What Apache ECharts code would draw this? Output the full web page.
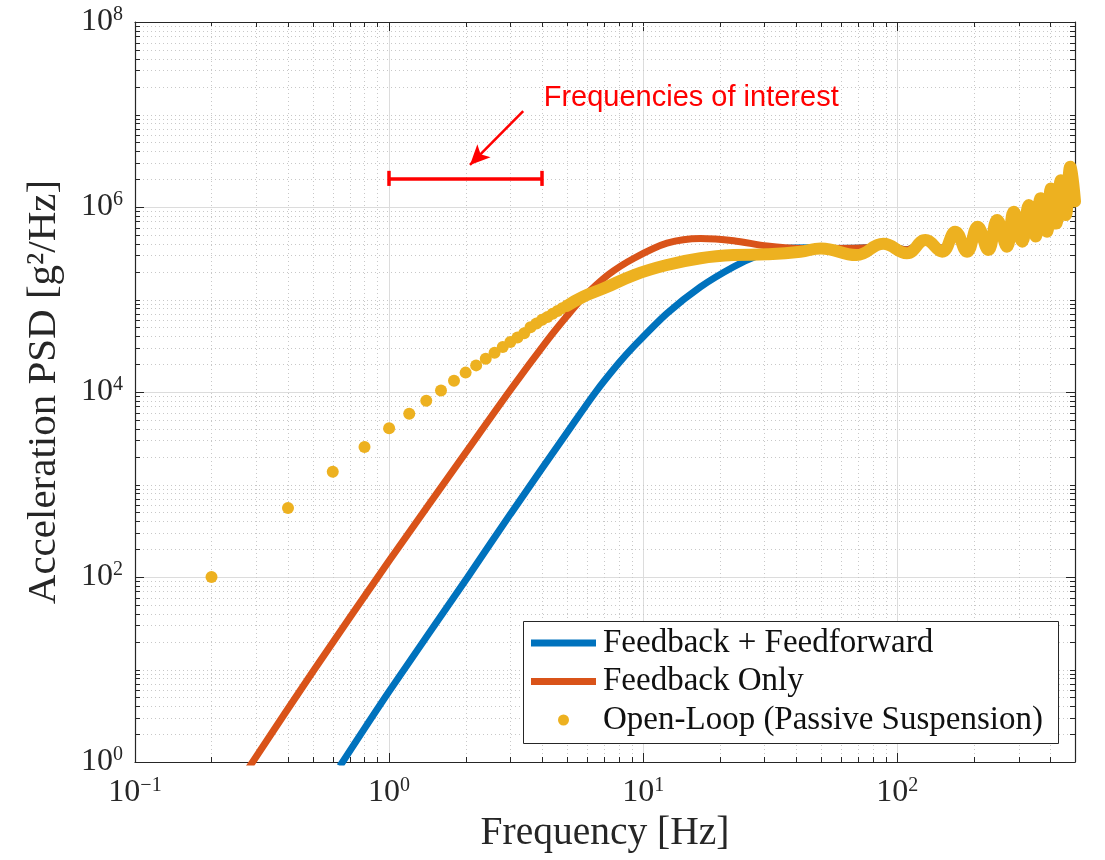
<!DOCTYPE html>
<html>
<head>
<meta charset="utf-8">
<script src="https://cdn.jsdelivr.net/npm/echarts@6/dist/echarts.min.js"></script>
<style>
  html, body { margin: 0; padding: 0; background: #fff; }
  #chart { width: 1105px; height: 860px; }
</style>
</head>
<body>
<div id="chart"></div>
<script>
  // frequency in Hz, acceleration PSD in g^2/Hz
  var olDotFreq = [0.2, 0.4, 0.6, 0.8, 1.0, 1.2, 1.4, 1.6, 1.8, 2.0, 2.2, 2.4, 2.6, 2.8, 3.0,
                   3.2, 3.4, 3.6, 3.8, 4.0, 4.2, 4.4, 4.6, 4.8, 5.0];
  var olDotPsd = [100, 557, 1370, 2540, 4060, 5820, 8050, 10400, 13200, 16200, 19400, 22900, 26600, 30600, 34700,
                  38900, 43200, 50100, 55000, 60300, 64600, 70000, 75000, 80400, 85100];

  // open loop above ~5 Hz, where the points merge into a band
  var olFreq = [5, 5.8, 7, 9.2, 12.4, 16.8, 22.7, 30.7, 41.5, 50, 69, 88, 109, 129, 150, 169, 188, 207, 228,
                247, 270, 287, 310, 329, 350, 366, 388, 402, 422, 440, 460, 479, 500];
  var olPsd = [85100, 107000, 132000, 184000, 236000, 279000, 302000, 308000, 328000, 357000, 302000, 400000,
               316000, 440000, 329000, 541000, 329000, 612000, 343000, 724000, 372000, 891000, 422000, 1050000,
               479000, 1240000, 541000, 1580000, 665000, 1950000, 818000, 2730000, 1150000];

  // feedback only; above ~200 Hz it lies under the open-loop band
  var fbFreq = [0.28, 0.5, 1.0, 2.0, 3.0, 4.2, 5.0, 5.8, 7.3, 9.2, 12.4, 16.8, 22.7, 30.7, 41.5, 56, 76, 88, 109,
                129, 150, 169, 188, 207, 228, 247, 270, 287, 310, 329, 350, 366, 388, 402, 422, 440, 460, 479, 500];
  var fbPsd = [0.86, 9.4, 150, 2200, 10500, 36300, 65800, 105000, 186000, 279000, 406000, 457000, 432000, 378000,
               357000, 357000, 362000, 390000, 345000, 425000, 358000, 515000, 356000, 600000, 343000, 724000,
               372000, 891000, 422000, 1050000, 479000, 1240000, 541000, 1580000, 665000, 1950000, 818000,
               2730000, 1150000];

  // feedback + feedforward; joins the feedback-only curve above ~40 Hz
  var ffFreq = [0.64, 1.0, 2.04, 3.0, 5.16, 6.5, 8.0, 9.16, 12.4, 16.8, 22.7, 28, 35.6, 45, 56, 76, 88, 109,
                129, 150, 169, 188, 207, 228, 247, 270, 287, 310, 329, 350, 366, 388, 402, 422, 440, 460, 479, 500];
  var ffPsd = [0.9, 5.8, 100, 478, 4070, 10000, 20400, 30900, 70800, 137000, 226000, 295000, 355000, 363000,
               357000, 362000, 390000, 345000, 425000, 358000, 515000, 356000, 600000, 343000, 724000,
               372000, 891000, 422000, 1050000, 479000, 1240000, 541000, 1580000, 665000, 1950000, 818000,
               2730000, 1150000];

  var seriesNames = ['Feedback + Feedforward', 'Feedback Only', 'Open-Loop (Passive Suspension)'];
  var colors = ['#0072BD', '#D95319', '#EDB120'];

  // axis ranges and minor ticks
  var xMin = 0.1, xMax = 500, yMin = 1, yMax = 1e8;
  var xMinor = [0.2, 0.3, 0.4, 0.5, 0.6, 0.7, 0.8, 0.9, 2, 3, 4, 5, 6, 7, 8, 9,
                20, 30, 40, 50, 60, 70, 80, 90, 200, 300, 400];
  var yMinor = [];
  for (var e = 0; e < 8; e++) {
    if (e % 2 == 1) yMinor.push(Math.pow(10, e));
    for (var m = 2; m < 10; m++) yMinor.push(m * Math.pow(10, e));
  }

  // annotation
  var bandLo = 1, bandHi = 4, bandY = 2.04e6, capLo = 1.69e6, capHi = 2.46e6;
  var arrowFrom = [3.37, 1.09e7], arrowTo = [2.08, 2.85e6];
  var noteAt = [4.04, 1.51e7];

  var serif = 'Liberation Serif';
  var ink = '#262626';

  function pairs(xs, ys) {
    return xs.map(function (x, i) { return [x, ys[i]]; });
  }

  function expLabel(v) {
    var e = Math.log10(v);
    if (Math.abs(e - Math.round(e)) > 1e-6) return '';
    e = Math.round(e);
    return '{b|10}{s|' + (e < 0 ? '\u2212' + (-e) : e) + '}';
  }
  var labelRich = {
    b: { fontFamily: serif, fontSize: 32, color: ink },
    s: { fontFamily: serif, fontSize: 20, color: ink, padding: [0, 0, 14, 0] }
  };

  function renderMinor(params, api) {
    var lo = api.coord([xMin, yMin]);
    var hi = api.coord([xMax, yMax]);
    var grid = { stroke: '#c8c8c8', lineWidth: 1, lineDash: [1, 3] };
    var tick = { stroke: ink, lineWidth: 1 };
    var els = [];
    function seg(x1, y1, x2, y2, st) {
      els.push({ type: 'line', shape: { x1: x1, y1: y1, x2: x2, y2: y2 }, style: st, silent: true });
    }
    xMinor.forEach(function (v) {
      var x = Math.round(api.coord([v, yMin])[0]) + 0.5;
      seg(x, lo[1], x, hi[1], grid);
      seg(x, lo[1], x, lo[1] - 5, tick);
      seg(x, hi[1], x, hi[1] + 5, tick);
    });
    yMinor.forEach(function (v) {
      var y = Math.round(api.coord([xMin, v])[1]) + 0.5;
      seg(lo[0], y, hi[0], y, grid);
      seg(lo[0], y, lo[0] + 5, y, tick);
      seg(hi[0], y, hi[0] - 5, y, tick);
    });
    return { type: 'group', children: els };
  }

  var chart = echarts.init(document.getElementById('chart'));
  var logX = { type: 'log', logBase: 10, min: xMin, max: xMax, interval: 1 };
  var logY = { type: 'log', logBase: 10, min: yMin, max: yMax, interval: 2 };
  var legendText = { fontFamily: serif, fontSize: 33, lineHeight: 34, color: '#111', padding: [0, 0, 0, 2] };

  var option = {
    animation: false,
    backgroundColor: '#fff',
    grid: { left: 135, right: 30, top: 22, bottom: 98, containLabel: false },
    xAxis: [
      Object.assign({}, logX, {
        position: 'bottom',
        name: 'Frequency [Hz]', nameLocation: 'middle', nameGap: 52,
        nameTextStyle: { fontFamily: serif, fontSize: 39.5, color: ink },
        axisLine: { lineStyle: { color: ink, width: 1.2 } },
        axisTick: { inside: true, length: 9, lineStyle: { color: ink } },
        axisLabel: { margin: 14, formatter: expLabel, rich: labelRich },
        splitLine: { show: true, lineStyle: { color: '#dcdcdc', width: 1 } },
        minorTick: { show: false }, minorSplitLine: { show: false }
      }),
      Object.assign({}, logX, {
        position: 'top',
        axisLine: { lineStyle: { color: ink, width: 1.2 } },
        axisTick: { inside: true, length: 9, lineStyle: { color: ink } },
        axisLabel: { show: false },
        splitLine: { show: false }
      })
    ],
    yAxis: [
      Object.assign({}, logY, {
        position: 'left',
        name: 'Acceleration PSD [g\u00b2/Hz]', nameLocation: 'middle', nameGap: 70,
        nameTextStyle: { fontFamily: serif, fontSize: 41, color: ink },
        axisLine: { show: true, lineStyle: { color: ink, width: 1.2 } },
        axisTick: { show: true, inside: true, length: 9, lineStyle: { color: ink } },
        axisLabel: { margin: 12, formatter: expLabel, rich: labelRich },
        splitLine: { show: true, lineStyle: { color: '#dcdcdc', width: 1 } }
      }),
      Object.assign({}, logY, {
        position: 'right',
        axisLine: { show: true, lineStyle: { color: ink, width: 1.2 } },
        axisTick: { show: true, inside: true, length: 9, lineStyle: { color: ink } },
        axisLabel: { show: false },
        splitLine: { show: false }
      })
    ],
    legend: [{
      data: [{ name: seriesNames[0], icon: 'rect' }, { name: seriesNames[1], icon: 'rect' }],
      orient: 'vertical', left: 531, top: 626, padding: 0,
      itemWidth: 65, itemHeight: 7, itemGap: 4.5, selectedMode: false, z: 20,
      textStyle: legendText
    }, {
      data: [{ name: seriesNames[2], icon: 'circle' }],
      orient: 'vertical', left: 558, top: 703, padding: 0,
      itemWidth: 65, itemHeight: 11, selectedMode: false, z: 20,
      textStyle: legendText
    }],
    graphic: [{
      type: 'rect', left: 523, top: 621, z: 10,
      shape: { width: 535, height: 122 },
      style: { fill: '#fff', stroke: ink, lineWidth: 1 }
    }],
    series: [
      {
        name: 'minor', type: 'custom', renderItem: renderMinor, data: [[1, 1]],
        silent: true, z: 1, xAxisIndex: 0, yAxisIndex: 0
      },
      {
        name: seriesNames[0], type: 'line', data: pairs(ffFreq, ffPsd), smooth: 0.3,
        showSymbol: false, color: colors[0], lineStyle: { width: 7, color: colors[0] }, clip: true
      },
      {
        name: seriesNames[1], type: 'line', data: pairs(fbFreq, fbPsd), smooth: 0.3,
        showSymbol: false, color: colors[1], lineStyle: { width: 7, color: colors[1] }, clip: true
      },
      {
        name: seriesNames[2], type: 'scatter', data: pairs(olDotFreq, olDotPsd),
        symbolSize: 12, itemStyle: { color: colors[2], opacity: 1 }
      },
      {
        name: seriesNames[2], type: 'line', data: pairs(olFreq, olPsd), smooth: 0.45,
        showSymbol: false, color: colors[2],
        lineStyle: { width: 12, color: colors[2], cap: 'round', join: 'round' }, clip: true
      },
      {
        name: 'note', type: 'line', data: [], silent: true,
        markLine: {
          silent: true, symbol: 'none', animation: false, label: { show: false },
          lineStyle: { color: '#ff0000', width: 3.5, type: 'solid' },
          data: [
            [{ coord: [bandLo, bandY] }, { coord: [bandHi, bandY] }],
            [{ coord: [bandLo, capLo] }, { coord: [bandLo, capHi] }],
            [{ coord: [bandHi, capLo] }, { coord: [bandHi, capHi] }],
            [{ coord: arrowFrom, lineStyle: { width: 2.5 } },
             { coord: arrowTo, symbol: 'arrow', symbolSize: [14, 20] }]
          ]
        },
        markPoint: {
          silent: true, animation: false, symbol: 'circle', symbolSize: 1,
          itemStyle: { color: 'rgba(0,0,0,0)' },
          label: {
            show: true, position: 'right', distance: 0, formatter: 'Frequencies of interest',
            fontFamily: 'Liberation Sans', fontSize: 29, color: '#ff0000'
          },
          data: [{ coord: noteAt }]
        }
      }
    ]
  };
  chart.setOption(option);
</script>
</body>
</html>
